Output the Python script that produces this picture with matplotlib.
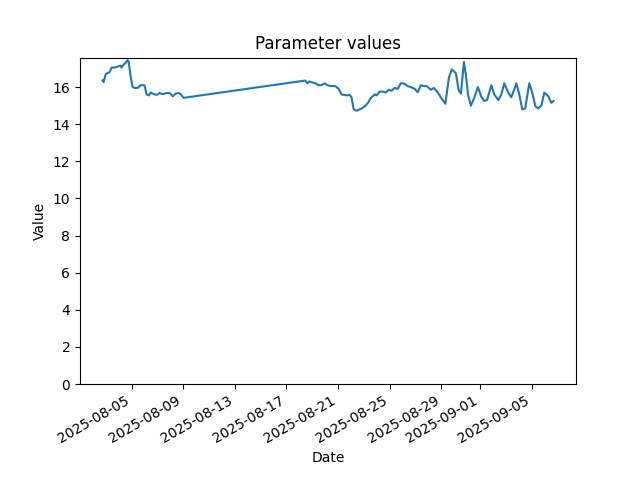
import matplotlib
matplotlib.use("Agg")
import matplotlib.pyplot as plt
import pandas as pd

# Timestamps and values
TIMES = [
    "2025-08-02 18:00", "2025-08-02 20:00", "2025-08-03 00:00", "2025-08-03 03:00",
    "2025-08-03 07:00", "2025-08-03 11:00", "2025-08-03 16:00", "2025-08-03 22:00",
    "2025-08-04 03:30", "2025-08-04 05:00", "2025-08-04 09:00", "2025-08-04 13:00",
    "2025-08-04 16:30", "2025-08-04 18:30", "2025-08-04 22:00", "2025-08-05 02:00",
    "2025-08-05 06:00", "2025-08-05 11:00", "2025-08-05 17:00", "2025-08-06 00:00",
    "2025-08-06 04:00", "2025-08-06 08:00", "2025-08-06 11:30", "2025-08-06 17:00",
    "2025-08-06 23:00", "2025-08-07 04:00", "2025-08-07 10:00", "2025-08-07 17:30",
    "2025-08-07 23:00", "2025-08-08 04:30", "2025-08-08 10:00", "2025-08-08 16:00",
    "2025-08-08 19:30", "2025-08-09 01:00",
    "2025-08-18 11:00", "2025-08-18 15:00", "2025-08-18 18:30", "2025-08-19 00:00",
    "2025-08-19 06:00", "2025-08-19 11:30", "2025-08-19 17:00", "2025-08-19 23:00",
    "2025-08-20 04:00", "2025-08-20 10:00", "2025-08-20 19:00", "2025-08-21 01:00",
    "2025-08-21 06:30", "2025-08-21 16:00", "2025-08-21 21:30", "2025-08-22 01:00",
    "2025-08-22 05:00", "2025-08-22 10:30", "2025-08-22 16:00", "2025-08-22 22:00",
    "2025-08-23 03:00", "2025-08-23 09:00", "2025-08-23 12:30", "2025-08-23 20:00",
    "2025-08-23 23:30", "2025-08-24 05:00", "2025-08-24 12:30", "2025-08-24 16:30",
    "2025-08-24 22:00", "2025-08-25 03:30", "2025-08-25 09:00", "2025-08-25 15:00",
    "2025-08-25 20:30", "2025-08-26 02:00", "2025-08-26 09:30", "2025-08-26 15:00",
    "2025-08-26 22:30", "2025-08-27 04:00", "2025-08-27 10:00", "2025-08-27 15:30",
    "2025-08-27 21:00", "2025-08-28 04:30", "2025-08-28 10:00", "2025-08-28 17:30",
    "2025-08-28 23:00", "2025-08-29 07:30", "2025-08-29 14:00", "2025-08-29 19:30",
    "2025-08-30 03:00", "2025-08-30 08:30", "2025-08-30 12:30", "2025-08-30 18:00",
    "2025-08-30 22:00", "2025-08-31 01:30", "2025-08-31 07:00", "2025-08-31 13:00",
    "2025-08-31 20:00", "2025-09-01 02:00", "2025-09-01 07:30", "2025-09-01 13:00",
    "2025-09-01 21:00", "2025-09-02 02:30", "2025-09-02 10:00", "2025-09-02 15:30",
    "2025-09-02 21:00", "2025-09-03 04:30", "2025-09-03 10:00", "2025-09-03 16:00",
    "2025-09-03 19:30", "2025-09-04 01:00", "2025-09-04 06:30", "2025-09-04 12:00",
    "2025-09-04 19:30", "2025-09-05 01:00", "2025-09-05 07:00", "2025-09-05 12:30",
    "2025-09-05 18:00", "2025-09-05 23:30", "2025-09-06 07:00", "2025-09-06 12:30",
    "2025-09-06 16:30",
]
VALUES = [
    16.36, 16.27, 16.70, 16.75, 16.80, 17.05, 17.05, 17.10,
    17.15, 17.05, 17.20, 17.30, 17.45, 17.40, 16.60, 16.00,
    15.95, 15.95, 16.10, 16.10, 15.60, 15.55, 15.70, 15.62,
    15.58, 15.68, 15.62, 15.68, 15.68, 15.50, 15.65, 15.68,
    15.60, 15.42,
    16.35, 16.20, 16.30, 16.25, 16.20, 16.10, 16.10, 16.20,
    16.10, 16.05, 16.05, 15.90, 15.60, 15.55, 15.58, 15.45,
    14.80, 14.72, 14.80, 14.88, 15.00, 15.20, 15.40, 15.60,
    15.55, 15.75, 15.75, 15.70, 15.85, 15.80, 15.95, 15.90,
    16.20, 16.20, 16.05, 16.00, 15.90, 15.72, 16.10, 16.05,
    16.05, 15.85, 15.95, 15.70, 15.45, 15.10, 16.50, 16.95,
    16.75, 15.80, 15.65, 17.35, 16.60, 15.60, 15.00, 15.40,
    16.00, 15.50, 15.25, 15.30, 16.10, 15.60, 15.30, 15.60,
    16.20, 15.70, 15.45, 15.90, 16.20, 15.60, 14.80, 14.85,
    16.20, 15.70, 14.95, 14.85, 15.00, 15.70, 15.50, 15.15,
    15.25,
]

dates = pd.to_datetime(TIMES)

fig, ax = plt.subplots(figsize=(6.4, 4.8), dpi=100)
ax.plot(dates, VALUES)
ax.set_ylim(bottom=0)
ax.set_title("Parameter values")
ax.set_xlabel("Date")
ax.set_ylabel("Value")
fig.autofmt_xdate()

plt.savefig("out.png")
